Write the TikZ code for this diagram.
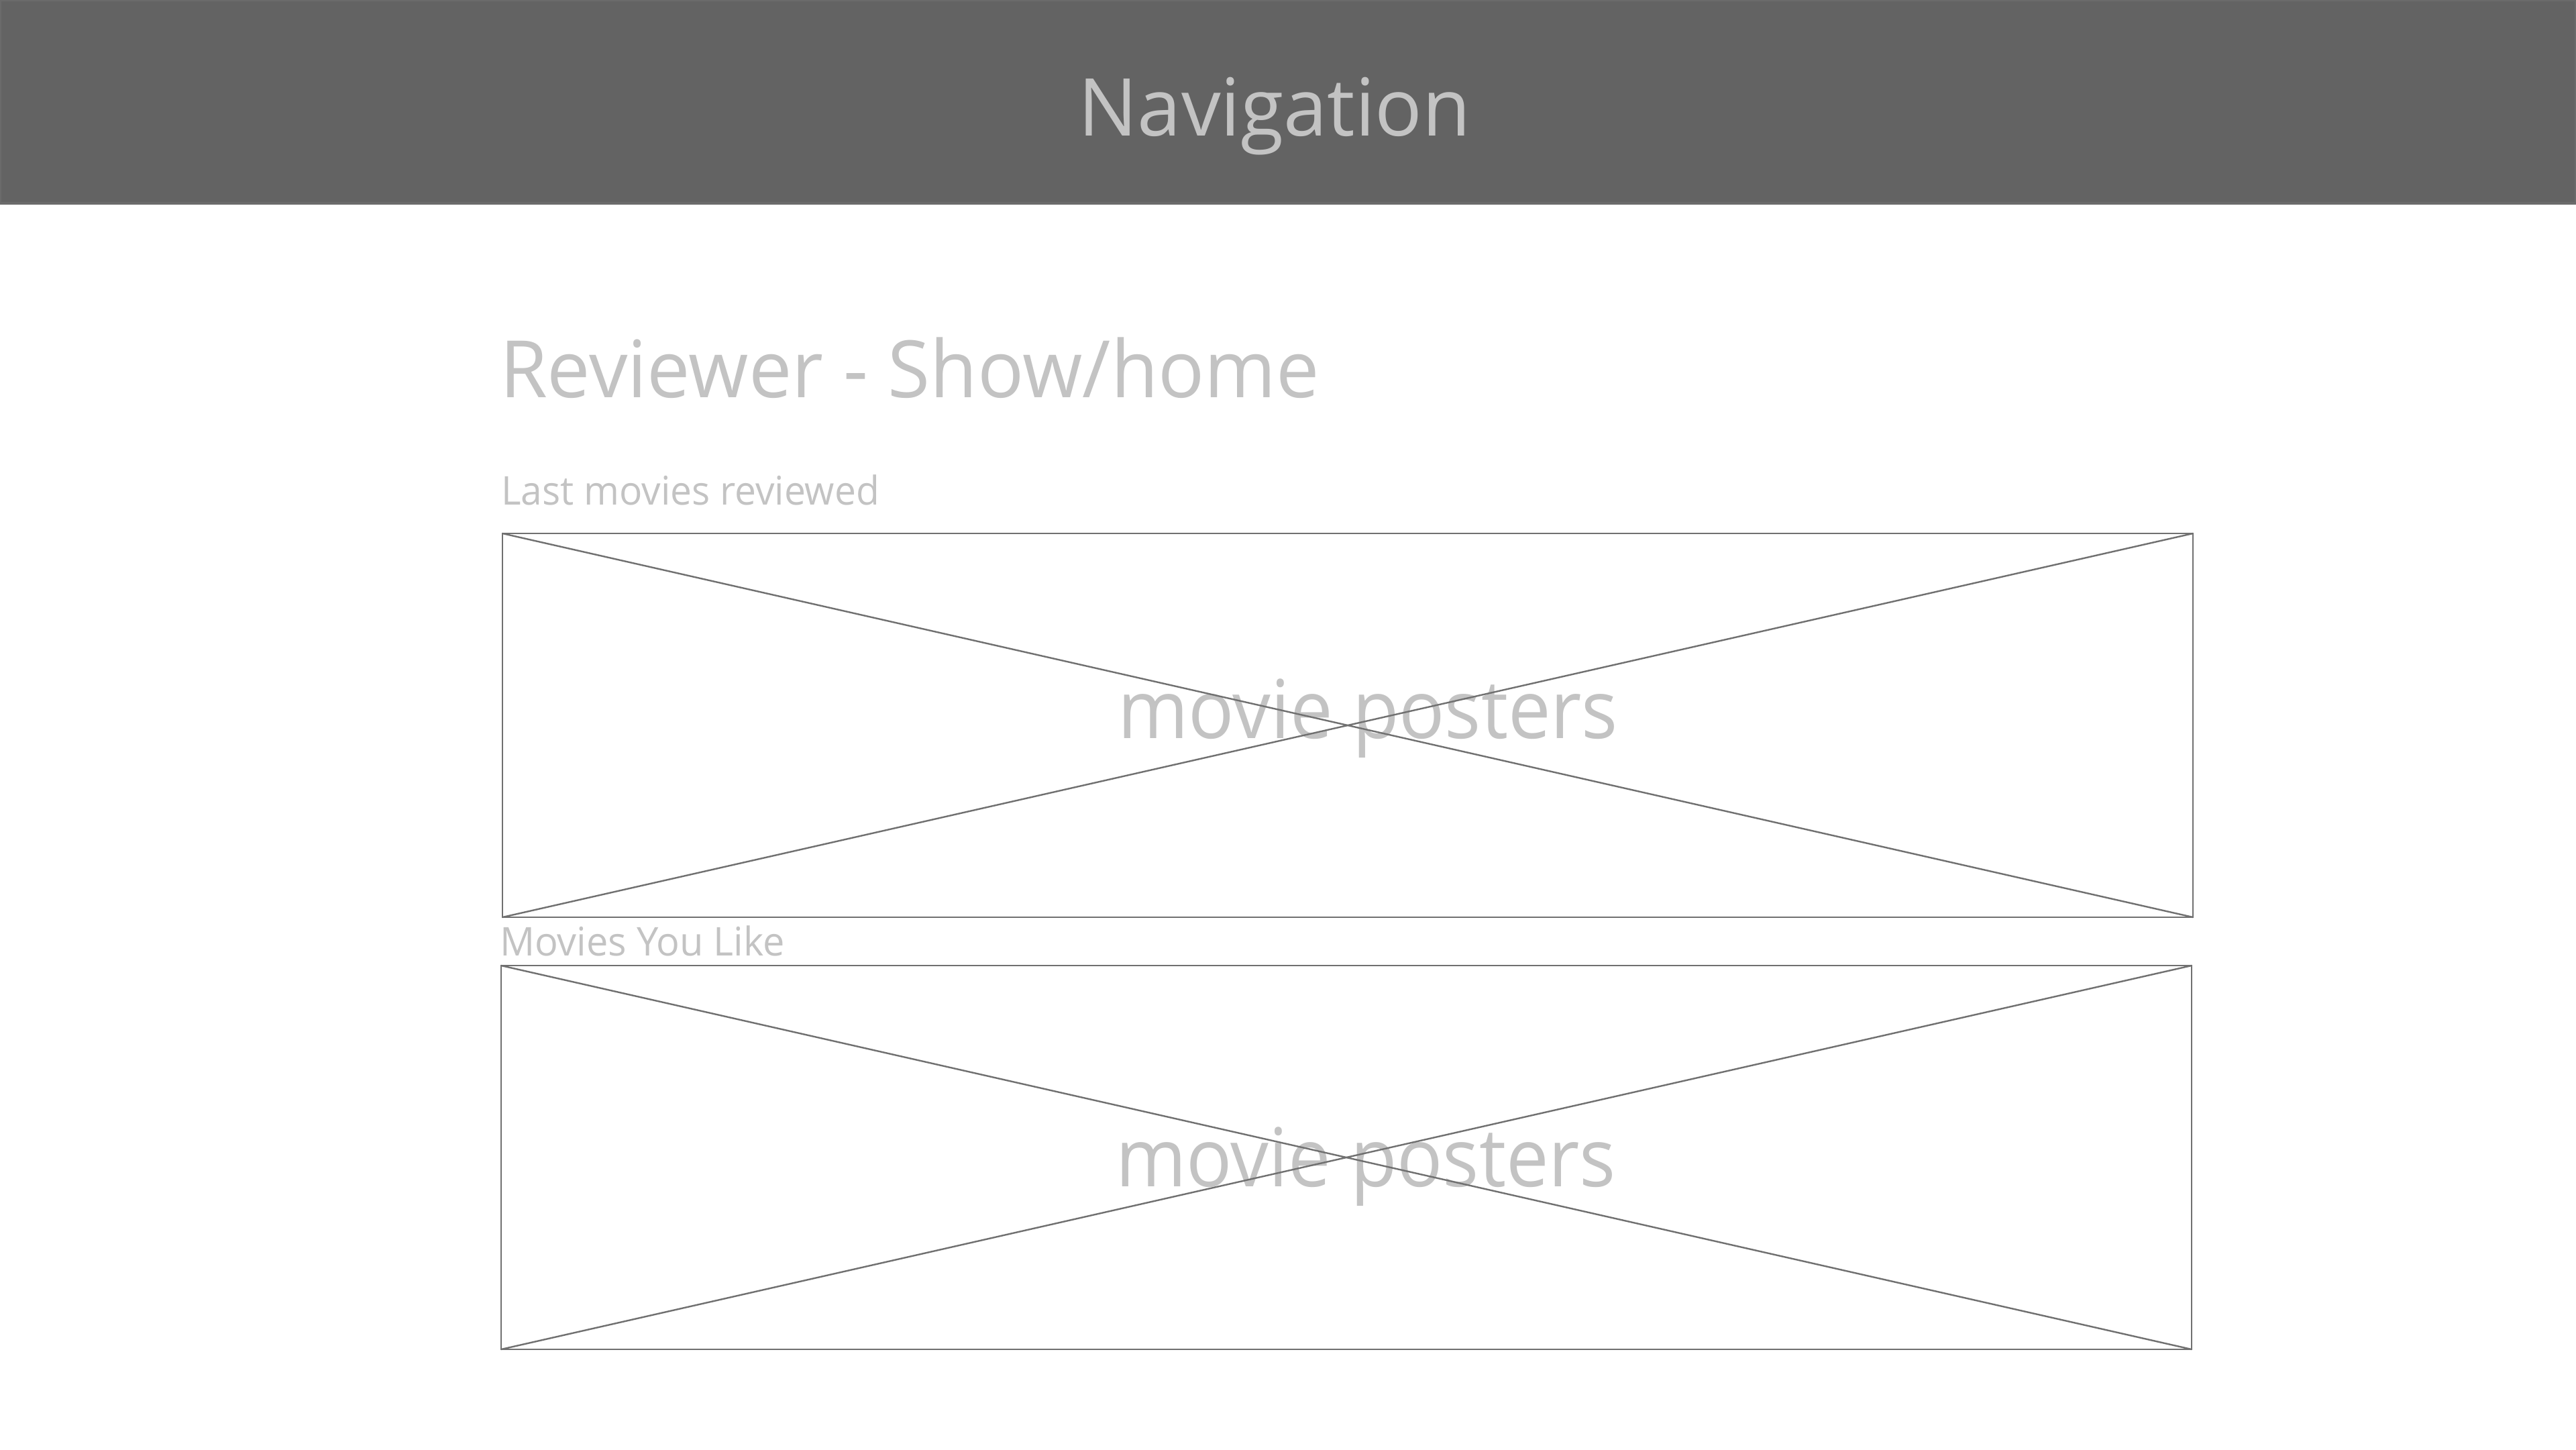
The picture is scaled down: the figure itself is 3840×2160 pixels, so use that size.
\documentclass[tikz,border=0pt]{standalone}
\usepackage{fontspec}
\setmainfont{Open Sans}
\usepackage{graphicx}
\definecolor{navfill}{HTML}{636363}
\definecolor{navedge}{HTML}{6B6B6B}
\definecolor{txtgray}{HTML}{C3C3C3}
\definecolor{linegray}{HTML}{707070}
\tikzset{
  wtext/.style={inner sep=0pt, outer sep=0pt, text=txtgray},
  posterbox/.style={draw=linegray, line width=2.6pt, inner sep=0pt, outer sep=0pt, anchor=north west},
  crossline/.style={draw=linegray, line width=2.4pt},
}
\newcommand{\fitw}[3]{\resizebox{#1pt}{\height}{\fontsize{#2pt}{#2pt}\selectfont #3}}
\begin{document}
\begin{tikzpicture}[x=1pt,y=-1pt]
\useasboundingbox (0,0) rectangle (3840,2160);
\fill[white] (0,0) rectangle (3840,2160);
% navigation bar
\node[fill=navfill, draw=navedge, line width=4pt, inner sep=0pt, outer sep=0pt,
      minimum width=3840pt, minimum height=303pt, anchor=north west] (nav) at (0,0) {};
\node[wtext, anchor=base] (navtxt) at (1900,202) {\fitw{585}{119}{Navigation}};
% title
\node[wtext, anchor=base west] (title) at (745,592) {\fitw{1222}{118}{Reviewer - Show/home}};
% section 1
\node[wtext, anchor=base west] (lab1) at (747,752) {\fitw{564}{59}{Last movies reviewed}};
\node[posterbox, minimum width=2520pt, minimum height=572pt] (box1) at (749,795) {};
\node[wtext, anchor=base] (pt1) at (2039,1100) {\fitw{746}{121}{movie posters}};
\draw[crossline] (box1.north west) -- (box1.south east);
\draw[crossline] (box1.south west) -- (box1.north east);
% section 2
\node[wtext, anchor=base west] (lab2) at (745,1424) {\fitw{425}{59}{Movies You Like}};
\node[posterbox, minimum width=2520pt, minimum height=572pt] (box2) at (747,1439) {};
\node[wtext, anchor=base] (pt2) at (2036,1768) {\fitw{746}{121}{movie posters}};
\draw[crossline] (box2.north west) -- (box2.south east);
\draw[crossline] (box2.south west) -- (box2.north east);
\end{tikzpicture}
\end{document}
